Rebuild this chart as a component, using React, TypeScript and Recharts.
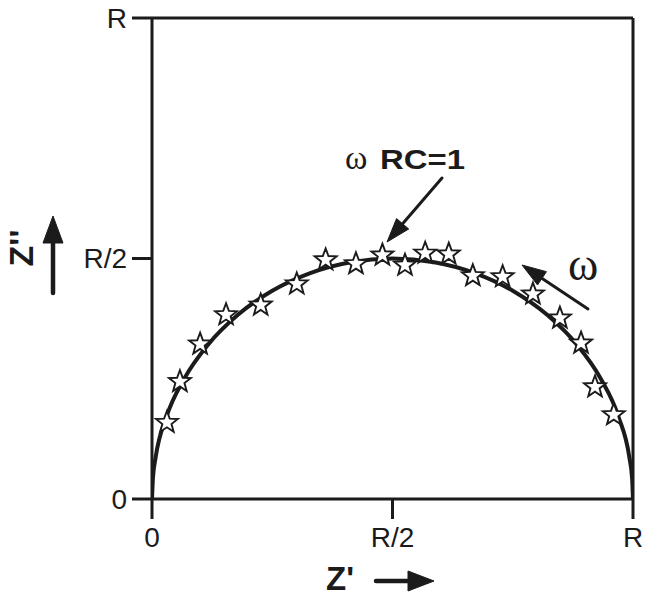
import { ComposedChart, Line, Scatter, XAxis, YAxis, ReferenceLine } from "recharts";

// semicircle (ideal RC response), fractions of R
const curveX = [0, 0.0019, 0.0076, 0.0302, 0.067, 0.117, 0.1786, 0.25, 0.329, 0.4132, 0.5, 0.5868, 0.671, 0.75, 0.8214, 0.883, 0.933, 0.9698, 0.9924, 0.9981, 1];
const curveY = [0, 0.0436, 0.0868, 0.171, 0.25, 0.3214, 0.383, 0.433, 0.4698, 0.4924, 0.5, 0.4924, 0.4698, 0.433, 0.383, 0.3214, 0.25, 0.171, 0.0868, 0.0436, 0];

// measured points (stars)
const starX = [0.031, 0.058, 0.1, 0.154, 0.226, 0.301, 0.361, 0.424, 0.479, 0.526, 0.568, 0.617, 0.667, 0.729, 0.792, 0.848, 0.892, 0.921, 0.96];
const starY = [0.159, 0.244, 0.322, 0.383, 0.403, 0.447, 0.497, 0.489, 0.507, 0.486, 0.511, 0.509, 0.464, 0.462, 0.426, 0.376, 0.324, 0.233, 0.175];

const ticks = [0, 0.5, 1];
const tickLabels = ["0", "R/2", "R"];

const curve = curveX.map((x, i) => ({ x, y: curveY[i] }));
const stars = starX.map((x, i) => ({ x, y: starY[i] }));

const INK = "#1b1b1b";
const SANS = "'Liberation Sans', Arial, Helvetica, sans-serif";
const SERIF = "'Liberation Serif', 'Times New Roman', serif";

function Star(props: any) {
  const { cx, cy } = props;
  if (cx == null || cy == null) return null;
  const outer = 11.5;
  const inner = 4.8;
  const pts: string[] = [];
  for (let k = 0; k < 10; k++) {
    const r = k % 2 === 0 ? outer : inner;
    const a = -Math.PI / 2 + (k * Math.PI) / 5;
    pts.push(`${cx + r * Math.cos(a)},${cy + r * Math.sin(a)}`);
  }
  return <polygon points={pts.join(" ")} fill="#fff" stroke={INK} strokeWidth={1.9} strokeLinejoin="miter" />;
}

function Arrow({ x1, y1, x2, y2, len, half, w }: { x1: number; y1: number; x2: number; y2: number; len: number; half: number; w: number }) {
  const dx = x2 - x1;
  const dy = y2 - y1;
  const d = Math.hypot(dx, dy);
  const ux = dx / d;
  const uy = dy / d;
  const bx = x2 - ux * len;
  const by = y2 - uy * len;
  const head = `${x2},${y2} ${bx - uy * half},${by + ux * half} ${bx + uy * half},${by - ux * half}`;
  return (
    <g>
      <line x1={x1} y1={y1} x2={bx + ux * 2} y2={by + uy * 2} stroke={INK} strokeWidth={w} strokeLinecap="round" />
      <polygon points={head} fill={INK} stroke={INK} strokeWidth={1} strokeLinejoin="round" />
    </g>
  );
}

const tickFmt = (v: number) => tickLabels[ticks.indexOf(v)] ?? "";

export default function App() {
  return (
    <div style={{ position: "relative", width: 646, height: 597, background: "#fff" }}>
      <style>{`body{margin:0}`}</style>
      <ComposedChart width={646} height={597} margin={{ top: 18, right: 13, bottom: 58, left: 92 }}>
        <XAxis
          dataKey="x"
          type="number"
          domain={[0, 1]}
          ticks={ticks}
          tickFormatter={tickFmt}
          height={40}
          tickSize={20}
          tickMargin={8}
          axisLine={{ stroke: INK, strokeWidth: 3 }}
          tickLine={{ stroke: INK, strokeWidth: 3 }}
          tick={{ fill: INK, fontSize: 28, fontFamily: SANS }}
          allowDataOverflow
        />
        <YAxis
          dataKey="y"
          type="number"
          domain={[0, 1]}
          ticks={ticks}
          tickFormatter={tickFmt}
          width={60}
          tickSize={20}
          tickMargin={5}
          axisLine={{ stroke: INK, strokeWidth: 3 }}
          tickLine={{ stroke: INK, strokeWidth: 3 }}
          tick={{ fill: INK, fontSize: 28, fontFamily: SANS }}
          allowDataOverflow
        />
        <ReferenceLine y={1} stroke={INK} strokeWidth={3} />
        <ReferenceLine x={1} stroke={INK} strokeWidth={3} />
        <Line
          data={curve}
          dataKey="y"
          type="monotone"
          stroke={INK}
          strokeWidth={4}
          dot={false}
          isAnimationActive={false}
        />
        <Scatter data={stars} dataKey="y" shape={<Star />} isAnimationActive={false} />
      </ComposedChart>

      <svg width={646} height={597} style={{ position: "absolute", left: 0, top: 0, pointerEvents: "none" }}>
        {/* annotation: omega RC = 1 */}
        <text x={345} y={169} fontFamily={SERIF} fontSize={34} fill={INK}>ω</text>
        <text x={380} y={169} fontFamily={SANS} fontSize={28} fontWeight="bold" fill={INK} textLength={85} lengthAdjust="spacingAndGlyphs">RC=1</text>
        <Arrow x1={442} y1={178} x2={387} y2={242} len={24} half={8} w={3} />

        {/* frequency direction */}
        <text x={568} y={280} fontFamily={SERIF} fontSize={46} fill={INK}>ω</text>
        <Arrow x1={588} y1={309} x2={522} y2={265} len={24} half={8} w={3} />

        {/* axis titles */}
        <text x={326} y={590} fontFamily={SANS} fontSize={33} fontWeight="bold" fill={INK}>Z'</text>
        <Arrow x1={376} y1={581} x2={434} y2={581} len={26} half={10} w={4.5} />
        <text
          x={0}
          y={0}
          transform="translate(33,248) rotate(-90)"
          textAnchor="middle"
          fontFamily={SANS}
          fontSize={34}
          fontWeight="bold"
          fill={INK}
        >
          Z''
        </text>
        <Arrow x1={53} y1={293} x2={53} y2={216} len={27} half={10} w={4.5} />
      </svg>
    </div>
  );
}
